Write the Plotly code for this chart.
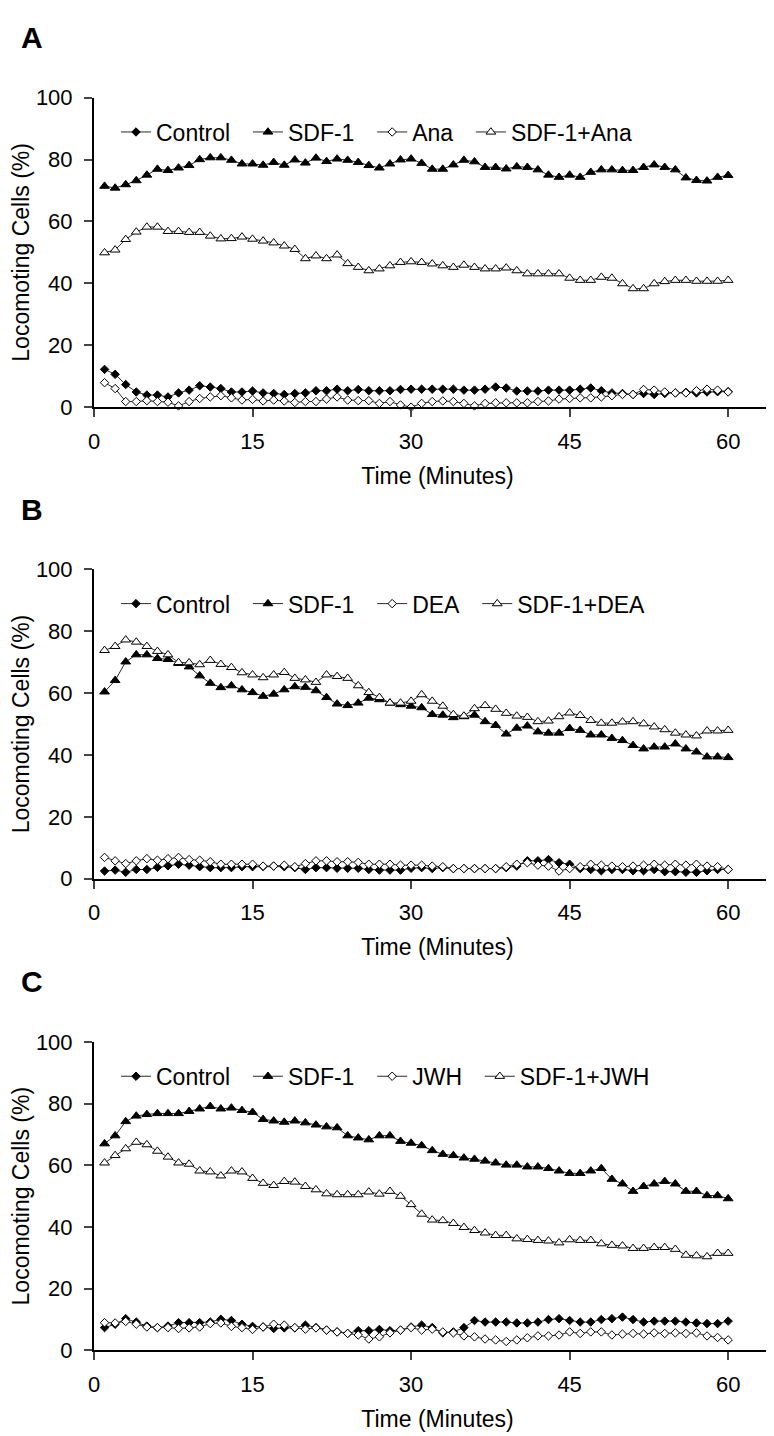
import plotly.graph_objects as go

minutes = list(range(1, 61))
x_ticks = [0, 15, 30, 45, 60]
y_ticks = [0, 20, 40, 60, 80, 100]
panel_letters = ["A", "B", "C"]

# ---------- Panel A ----------
ctrl_A = [12.2,10.6,7.3,4.9,3.9,3.9,3.3,4.6,5.5,6.9,6.5,6.0,4.9,4.9,5.2,4.6,4.4,4.1,4.4,4.6,5.3,5.3,5.8,5.3,5.7,5.3,5.3,5.3,5.7,5.8,
          5.8,5.8,5.8,5.8,5.5,5.5,5.8,6.5,6.2,5.2,5.2,5.2,5.5,5.5,5.5,5.8,6.2,5.3,4.6,4.4,4.1,4.4,4.1,4.4,4.6,4.8,4.6,4.9,5.0,5.0]
sdf_A = [71.4,70.8,71.9,73.2,75.0,76.9,76.5,77.3,78.1,80.0,80.6,80.6,79.8,78.6,78.6,78.2,79.1,78.2,79.9,78.9,80.5,79.4,80.2,79.8,79.1,78.1,77.3,78.6,
         79.9,80.2,78.8,76.9,76.9,78.3,79.8,79.3,77.5,77.5,77.0,77.7,77.5,76.7,75.0,74.3,75.0,74.3,75.9,76.7,76.7,76.5,76.5,77.5,78.3,77.5,76.7,74.1,73.3,73.1,74.3,74.9]
ana_A = [7.9,6.0,1.8,1.8,2.1,1.8,1.6,0.4,1.8,2.8,3.3,3.7,3.0,2.3,2.5,2.0,2.3,2.0,1.5,1.8,1.8,2.6,3.3,2.3,2.1,2.1,1.2,1.8,0.7,0.0,
         1.2,1.8,2.0,1.8,1.2,0.4,1.2,1.4,1.4,1.4,1.4,1.8,2.0,2.6,2.8,3.0,3.0,3.3,3.7,4.1,4.1,5.7,5.5,4.9,4.6,4.6,5.3,5.8,5.5,4.9]
sdfana_A = [49.9,50.8,54.2,56.6,58.2,58.2,56.8,56.8,56.5,56.5,55.3,54.4,54.5,55.0,54.3,53.7,53.1,52.1,51.0,48.0,48.9,48.0,49.2,46.4,45.2,44.1,44.7,45.7,
            46.8,47.0,46.8,46.3,45.7,45.2,45.9,45.2,44.7,44.7,45.0,44.1,43.1,43.1,43.1,43.1,41.7,41.0,41.0,42.0,41.7,39.9,38.3,38.3,39.9,40.6,41.0,41.0,40.7,40.7,40.7,41.0]

# ---------- Panel B ----------
ctrl_B = [2.5,2.8,2.1,3.0,3.0,3.7,4.2,4.7,4.4,3.9,3.6,3.6,3.6,3.9,3.9,4.0,4.1,3.9,3.6,3.0,3.6,3.6,3.4,3.4,3.4,3.0,2.8,2.8,2.8,3.4,3.6,
          3.3,3.6,3.3,3.3,3.3,3.3,3.3,3.6,4.1,5.8,5.8,6.2,5.2,4.7,3.3,3.0,2.6,3.0,3.0,2.6,2.6,3.0,2.3,2.3,2.1,2.1,2.6,3.0,3.0]
sdf_B = [60.4,64.1,70.1,72.4,72.4,71.2,70.9,69.6,68.5,65.6,63.2,61.8,62.4,61.1,60.2,59.0,59.7,61.1,62.1,61.9,60.8,58.6,56.5,56.0,56.8,58.4,57.9,
         56.8,56.3,55.8,55.3,53.1,52.9,52.1,52.4,52.9,50.8,49.6,46.8,48.7,49.4,47.5,47.1,47.1,48.6,48.0,46.5,46.5,45.4,44.7,43.1,42.0,42.6,42.6,43.6,42.0,41.0,39.4,39.4,39.2]
dea_B = [6.9,5.8,4.9,5.8,6.5,6.0,6.5,6.9,6.2,6.0,5.5,4.7,4.7,4.7,4.7,4.1,4.1,4.4,3.9,4.9,5.8,5.8,5.5,5.5,5.3,4.7,4.7,4.7,4.4,4.4,4.4,
         4.1,3.9,3.3,3.3,3.3,3.3,3.3,3.9,4.7,5.2,4.4,4.1,2.5,3.3,3.9,4.7,4.4,4.1,3.9,4.1,4.4,4.7,4.4,4.7,4.4,4.7,4.1,3.9,3.0]
sdfdea_B = [73.8,75.1,77.2,76.5,75.1,73.5,72.4,69.9,69.8,69.2,70.6,69.3,68.3,66.6,65.9,65.0,65.9,66.7,64.8,64.3,63.5,65.9,65.4,64.8,62.4,60.2,58.6,
            56.8,56.8,57.4,59.5,57.4,55.8,53.1,52.6,55.0,56.0,54.8,53.5,52.6,52.2,50.8,51.0,52.4,53.6,52.8,51.2,50.3,50.3,50.7,50.8,50.1,49.1,48.2,47.1,46.5,46.2,47.8,47.8,48.0]

# ---------- Panel C ----------
ctrl_C = [7.4,8.5,10.3,9.2,7.9,7.4,7.9,9.0,9.0,9.0,9.2,10.1,9.7,8.5,7.8,7.6,7.1,7.3,7.3,8.2,7.4,6.6,6.0,5.5,6.4,6.4,6.8,6.4,6.6,7.6,8.2,
          7.4,5.7,6.0,7.4,9.7,9.2,9.2,9.2,8.9,8.9,9.2,10.0,10.3,9.7,9.2,9.2,10.0,10.3,10.8,10.0,9.2,9.5,9.5,9.5,9.2,8.9,8.7,8.7,9.5]
sdf_C = [67.0,69.6,74.2,76.0,76.5,76.8,76.8,76.8,77.5,78.3,79.1,78.3,78.6,77.8,77.2,74.9,74.4,74.0,74.4,73.8,73.1,72.5,72.2,69.6,68.9,68.3,69.6,69.6,
         67.8,67.2,66.4,64.8,63.6,63.2,62.4,62.0,61.4,60.8,60.1,60.1,59.5,59.5,59.0,58.2,57.4,57.4,58.2,59.0,55.5,54.0,51.6,53.2,54.0,54.8,54.0,51.6,51.6,50.2,50.2,49.2]
jwh_C = [9.0,8.9,9.4,8.5,7.6,7.4,7.4,7.1,7.3,7.6,8.7,8.9,7.8,7.4,6.8,7.6,8.5,8.2,7.4,6.9,7.3,6.6,6.0,5.5,5.0,3.7,4.4,5.7,6.6,7.4,6.6,
         6.9,6.0,5.7,4.7,4.4,3.7,3.4,2.9,3.4,4.1,4.7,4.7,5.0,6.0,5.5,6.0,6.0,5.0,5.3,5.5,5.3,5.7,5.5,5.7,5.5,5.7,4.7,4.2,3.4]
sdfjwh_C = [60.8,63.2,65.4,67.5,66.7,64.6,62.7,60.8,60.4,58.2,57.9,56.6,58.2,57.9,55.8,54.2,53.5,54.8,54.6,53.2,52.1,50.8,50.5,50.5,50.5,51.4,50.7,51.6,
            50.0,47.3,44.2,42.3,42.1,41.2,39.9,38.9,38.1,37.3,37.3,36.2,36.0,35.7,35.5,34.9,35.9,35.7,35.7,34.6,34.1,33.9,33.1,33.1,33.4,33.4,32.8,30.9,30.7,30.4,31.5,31.5]

panels = [
    (["Control", "SDF-1", "Ana", "SDF-1+Ana"], [ctrl_A, sdf_A, ana_A, sdfana_A]),
    (["Control", "SDF-1", "DEA", "SDF-1+DEA"], [ctrl_B, sdf_B, dea_B, sdfdea_B]),
    (["Control", "SDF-1", "JWH", "SDF-1+JWH"], [ctrl_C, sdf_C, jwh_C, sdfjwh_C]),
]

styles = [
    dict(symbol="diamond", color="black", size=6.5),
    dict(symbol="triangle-up", color="black", size=8.5),
    dict(symbol="diamond", color="white", size=6.5),
    dict(symbol="triangle-up", color="white", size=8.5),
]

W, H = 774, 1436
L, R = 86, 1
panel_px = [(79, 394), (559, 874), (1040, 1354)]
FONT = "Arial, Liberation Sans, sans-serif"
NB = "\u00a0\u00a0"

fig = go.Figure()
layout = dict(
    width=W, height=H,
    margin=dict(l=L, r=R, t=0, b=0),
    paper_bgcolor="white", plot_bgcolor="white",
    font=dict(family=FONT, size=22, color="black"),
    showlegend=True,
    annotations=[],
)

pw = W - L - R
for i, (names, series) in enumerate(panels):
    k = "" if i == 0 else str(i + 1)
    top, bot = panel_px[i]
    dom = [1 - bot / H, 1 - top / H]
    legname = "legend" + k
    for j, (name, vals, st) in enumerate(zip(names, series, styles)):
        fig.add_trace(go.Scatter(
            x=minutes, y=vals, name=name + (NB if j < 3 else ""), mode="lines+markers",
            xaxis="x" + k, yaxis="y" + k, legend=legname,
            line=dict(color="#2a2a2a", width=1),
            marker=dict(symbol=st["symbol"], size=st["size"],
                        color=st["color"], line=dict(color="black", width=1)),
            cliponaxis=False,
        ))
    layout["xaxis" + k] = dict(
        domain=[0, 1], anchor="y" + k, range=[0, 65],
        tickvals=x_ticks, ticks="outside", ticklen=8, tickwidth=1.5,
        showline=True, linecolor="black", linewidth=2, showgrid=False, zeroline=False,
        tickfont=dict(size=22, family=FONT), ticklabelstandoff=5,
        title=dict(text="Time (Minutes)", font=dict(size=23, family=FONT), standoff=15),
    )
    layout["yaxis" + k] = dict(
        domain=dom, anchor="x" + k, range=[0, 100],
        tickvals=y_ticks, ticks="outside", ticklen=8, tickwidth=1.5,
        showline=True, linecolor="black", linewidth=2, showgrid=False, zeroline=False,
        tickfont=dict(size=22, family=FONT), ticklabelstandoff=7,
        title=dict(text="Locomoting Cells (%)", font=dict(size=23, family=FONT), standoff=9),
    )
    leg_y = 1 - (top + 35) / H
    layout[legname] = dict(
        orientation="h", x=(108 - L) / pw, xanchor="left", y=leg_y, yanchor="middle",
        font=dict(size=23, family=FONT), bgcolor="rgba(0,0,0,0)",
        traceorder="normal",
    )
    layout["annotations"].append(dict(
        text="<b>%s</b>" % panel_letters[i], xref="paper", yref="paper",
        x=(24 - L) / pw, y=1 - (top - 61) / H, xanchor="center", yanchor="middle",
        showarrow=False, font=dict(size=30, family=FONT, color="black"),
    ))

fig.update_layout(**layout)
fig.write_html("out.html")
